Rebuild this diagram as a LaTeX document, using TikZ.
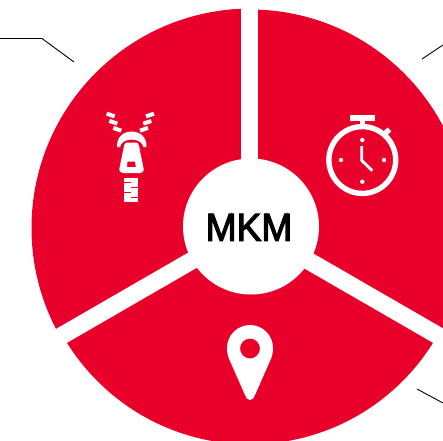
\documentclass[tikz,border=0pt]{standalone}
\usepackage{fontspec}
\setmainfont{Liberation Sans}
\newfontfamily\logofont[FakeStretch=0.95,FakeBold=3]{Liberation Sans}
\definecolor{brandred}{RGB}{232,0,42}
\tikzset{
  gapline/.style={white,line width=17.5pt},
  leader/.style={black,line width=0.9pt},
  watchline/.style={white,line width=5.4pt},
  handline/.style={white,line width=2.9pt,line join=miter},
  tooth/.style={white,line width=4pt}
}
\begin{document}
\begin{tikzpicture}[x=1pt,y=-1pt]
\useasboundingbox (0,0) rectangle (443,440);
\clip (0,0) rectangle (443,440);
\fill[white] (0,0) rectangle (443,440);
% three sectors, each with its own arc
\coordinate (c) at (250,227);
\begin{scope}
  \clip (c) -- (250,-50) -- (-100,-50) -- (-100,429) -- cycle;
  \fill[brandred] (251,228) circle[radius=219.5];
\end{scope}
\begin{scope}
  \clip (c) -- (250,-50) -- (600,-50) -- (600,429) -- cycle;
  \fill[brandred] (250,227.5) circle[radius=218];
\end{scope}
\begin{scope}
  \clip (c) -- (-100,429) -- (-100,600) -- (600,600) -- (600,429) -- cycle;
  \fill[brandred] (250,228.6) circle[radius=215.7];
\end{scope}
\fill[white] (241,-1) rectangle (257.7,230);
\draw[gapline] (c) -- ++(-240,138.6);
\draw[gapline] (c) -- ++(240,138.6);
\fill[white] (251,226.5) circle[radius=68];
\node[font=\logofont\fontsize{39}{39}\selectfont,text=black,inner sep=0pt] (logo) at (249,227.3) {MKM};
% leaders
\coordinate (la) at (0,38.5); \coordinate (lb) at (42,38.5); \coordinate (lc) at (74,62);
\draw[leader] (la) -- (lb) -- (lc);
\coordinate (ra) at (422,59); \coordinate (rb) at (443,45);
\draw[leader] (ra) -- (rb);
\coordinate (sa) at (417,389); \coordinate (sb) at (443,403);
\draw[leader] (sa) -- (sb);
% pin
\fill[white,even odd rule]
  (250,400) .. controls (247,400) and (246.5,398) .. (245,395)
  -- (230,361) .. controls (228,357) and (227,353) .. (227,348)
  arc[start angle=180,end angle=0,x radius=23,y radius=-23]
  .. controls (273,353) and (272,357) .. (270,361)
  -- (255,395) .. controls (253.5,398) and (253,400) .. (250,400) -- cycle
  (250,348.5) circle[radius=10];
% stopwatch
\draw[watchline] (362.3,160) circle[radius=33.4];
\fill[white] (350,114.7) rectangle (375,120.8);
\fill[white] (360,120) rectangle (365,128);
\draw[watchline] (384.5,134) -- (389.5,129.5);
\fill[white] (362.3,140) circle[radius=2.2];
\fill[white] (341,160) circle[radius=2.2];
\fill[white] (384,160) circle[radius=2.2];
\fill[white] (362.3,181.7) circle[radius=2.2];
\draw[handline] (361.7,146) -- (361.7,160.5) -- (372.3,170.7);
% zipper: tape teeth
\foreach \tx/\ty in {110.7/115,113.3/122.3,117.3/129.3}
  \draw[tooth] (\tx,\ty) ++(-4,-1.4) -- ++(8,2.8);
\foreach \tx/\ty in {150/115,147.3/122.3,144/129.3}
  \draw[tooth] (\tx,\ty) ++(4,-1.4) -- ++(-8,2.8);
% zipper: slider dome
\fill[white] (117,147) .. controls (116.5,137.5) and (123,131.5) .. (131.7,131.5)
  .. controls (140.4,131.5) and (147,137.5) .. (146.5,147)
  -- (143.5,147) .. controls (142.5,142.5) and (138,139.5) .. (131.7,139.5)
  .. controls (125.5,139.5) and (121,142.5) .. (120,147) -- cycle;
% zipper: slider body
\fill[white,even odd rule]
  (127,142.5) -- (136,142.5) .. controls (138,142.5) and (138.5,144) .. (139,146)
  -- (143.5,168) .. controls (144,171.5) and (142.5,173) .. (140,173)
  -- (123,173) .. controls (120.5,173) and (119,171.5) .. (119.5,168)
  -- (124,146) .. controls (124.5,144) and (125,142.5) .. (127,142.5) -- cycle
  (127.5,161.5) -- (135,161.5) -- (135.8,167) -- (127,167) -- cycle;
% zipper: chain
\fill[white] (123.5,178) rectangle (138.3,202);
\fill[brandred] (123,182) rectangle (131,183.4);
\fill[brandred] (131,187) rectangle (139,188.4);
\fill[brandred] (123,192) rectangle (131,193.4);
\fill[brandred] (131,197) rectangle (139,198.4);
\end{tikzpicture}
\end{document}
